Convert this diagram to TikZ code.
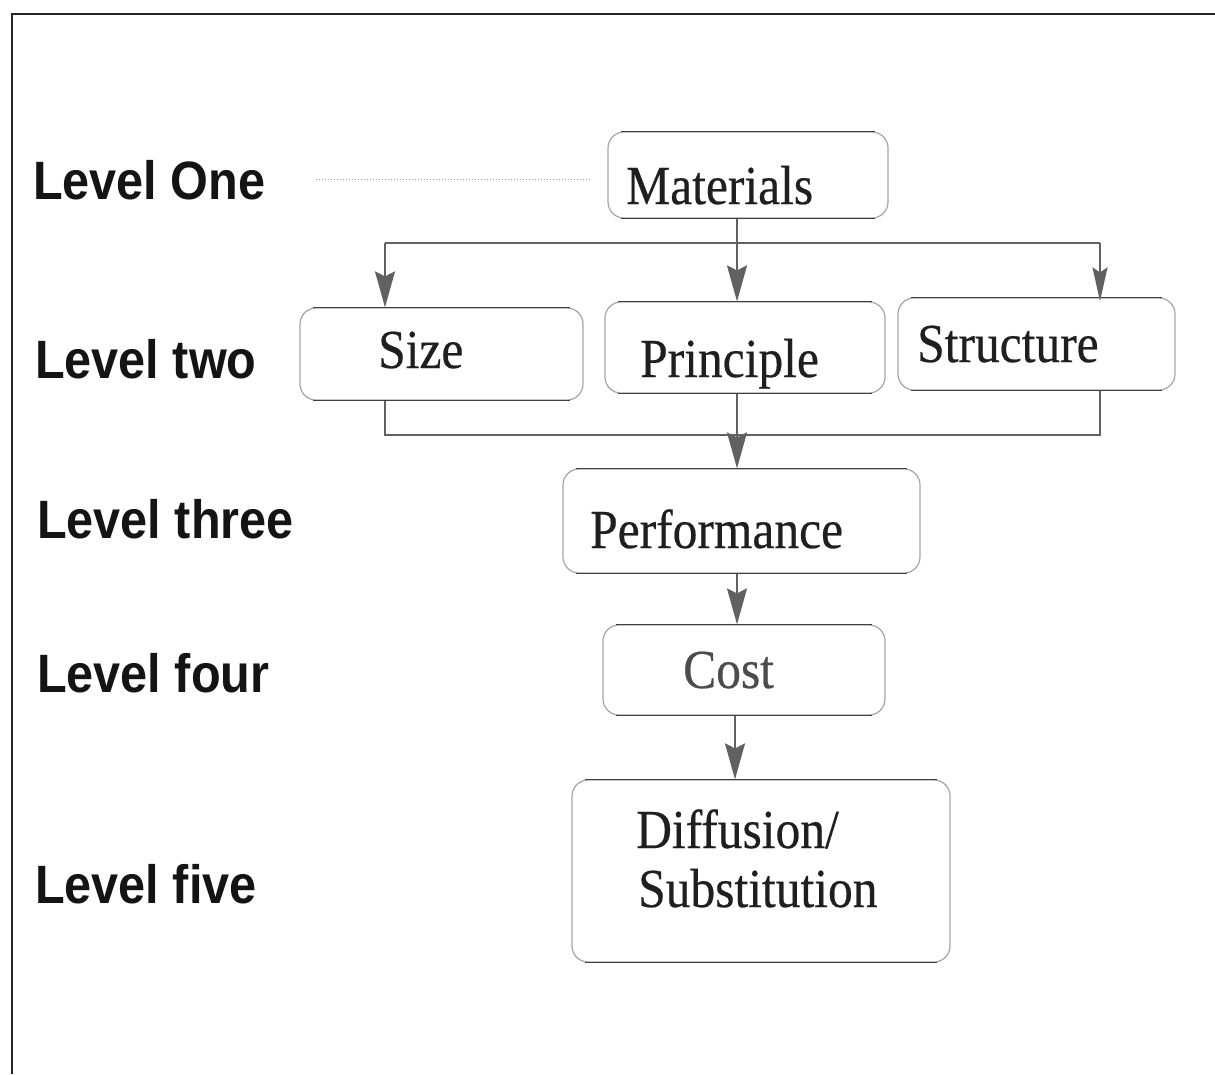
\documentclass[tikz,border=0pt]{standalone}
\usepackage{fontspec}
\usetikzlibrary{arrows.meta}
\newfontfamily\lvlfont{Liberation Sans}[FakeStretch=0.9]
\newfontfamily\boxfont{Liberation Serif}[FakeStretch=0.9,FakeBold=0.4]
\tikzset{
  lvl/.style={anchor=base west, inner sep=0pt, text=black!92, font=\lvlfont\bfseries\fontsize{54}{60}\selectfont},
  boxtxt/.style={anchor=base west, inner sep=0pt, text=black!88, font=\boxfont\fontsize{55}{60}\selectfont},
  stagebox/.style={draw=black!35, line width=1.2pt, rounded corners=16pt, inner sep=0pt},
  boxedge/.style={draw=black!75, line width=1.6pt},
  conn/.style={draw=black!62, line width=1.8pt},
  arr/.style={conn, -{Stealth[length=36pt,width=20pt,inset=5pt]}},
  frame/.style={draw=black!85, line width=2.5pt}
}
\begin{document}
\begin{tikzpicture}[x=1pt,y=-1pt]
\useasboundingbox (0,0) rectangle (1215,1074);
\fill[white] (0,0) rectangle (1215,1074);
% frame
\coordinate (fTL) at (12,14);
\coordinate (fTR) at (1215,14);
\coordinate (fBL) at (12,1074);
\draw[frame] (fTR) -- (fTL) -- (fBL);

% boxes
\node[stagebox, minimum width=280pt, minimum height=86pt] (mat) at (748,175) {};
\node[stagebox, minimum width=283pt, minimum height=92pt] (siz) at (441.5,354) {};
\node[stagebox, minimum width=280pt, minimum height=91pt] (pri) at (745,347.5) {};
\node[stagebox, minimum width=277pt, minimum height=92pt] (str) at (1036.5,344) {};
\node[stagebox, minimum width=357pt, minimum height=104pt] (perf) at (741.5,521) {};
\node[stagebox, minimum width=282pt, minimum height=90pt] (cost) at (744,670) {};
\node[stagebox, minimum width=378pt, minimum height=182pt] (diff) at (761,871) {};
\foreach \n in {mat,siz,pri,str,perf,cost,diff}{
  \draw[boxedge] ([xshift=14pt]\n.north west) -- ([xshift=-14pt]\n.north east);
  \draw[boxedge] ([xshift=14pt]\n.south west) -- ([xshift=-14pt]\n.south east);
}

% box texts
\node[boxtxt] (matT) at (626,204) {Materials};
\node[boxtxt] (sizT) at (378,368) {Size};
\node[boxtxt] (priT) at (640,377) {Principle};
\node[boxtxt] (strT) at (917,362) {Structure};
\node[boxtxt] (perfT) at (590,548) {Performance};
\node[boxtxt, text=black!70] (costT) at (683,688) {Cost};
\node[boxtxt] (diffT1) at (636,848) {Diffusion/};
\node[boxtxt] (diffT2) at (638,907) {Substitution};

% level labels
\node[lvl] (l1) at (33,199) {Level One};
\node[lvl] (l2) at (35,378) {Level two};
\node[lvl] (l3) at (37,538) {Level three};
\node[lvl] (l4) at (37,692) {Level four};
\node[lvl] (l5) at (35,903) {Level five};

% dotted guide
\coordinate (dotR) at (590,0);
\draw[dotted, black!40, line width=1pt] ([xshift=50pt]l1.east) -- (l1.east -| dotR);

% connectors
\coordinate (busL) at (385,243);
\coordinate (busM) at (737,243);
\coordinate (busR) at (1100,243);
\coordinate (lowL) at (385,435);
\coordinate (lowM) at (737,435);
\coordinate (lowR) at (1100,435);
\coordinate (axis) at (737,0);
\coordinate (axis2) at (735,0);

\draw[conn] (busL) -- (busR);
\draw[arr] (mat.south -| busM) -- (pri.north -| busM);
\draw[arr] (busL) -- (siz.north -| busL);
\draw[arr, -{Stealth[length=34pt,width=15pt,inset=5pt]}] (busR) -- ([yshift=-4pt]str.north -| busR);
\draw[conn] (siz.south -| lowL) -- (lowL) -- (lowR) -- (str.south -| lowR);
\draw[arr] (pri.south -| lowM) -- (perf.north -| lowM);
\draw[arr] (perf.south -| axis) -- (cost.north -| axis);
\draw[arr] (cost.south -| axis2) -- (diff.north -| axis2);
\end{tikzpicture}
\end{document}
